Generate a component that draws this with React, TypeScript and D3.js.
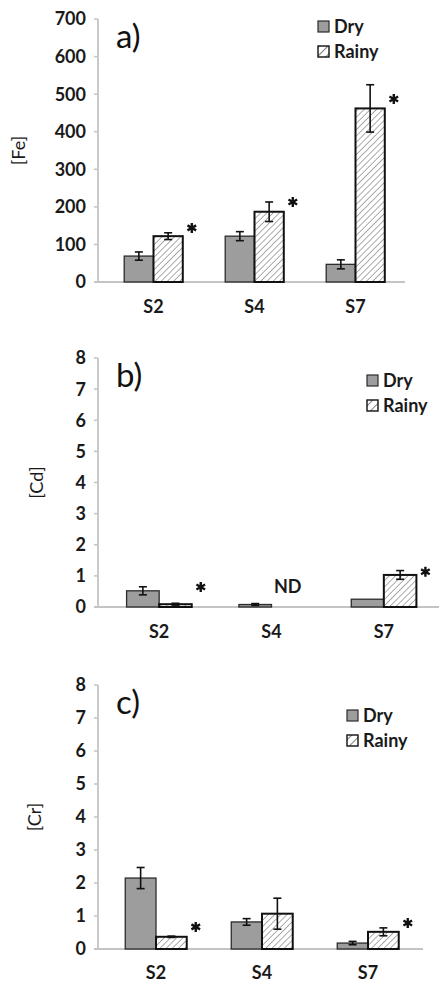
import React from 'react';
import * as d3 from 'd3';

const categories = ['S2', 'S4', 'S7'];

// [Fe]
const feDry = [69, 122, 47];
const feDryErr = [11, 12, 12];
const feRainy = [122, 187, 462];
const feRainyErr = [9, 26, 63];
const feStar = [144, 213, 487];

// [Cd]
const cdDry = [0.52, 0.08, 0.25];
const cdDryErr = [0.13, 0.03, 0];
const cdRainy = [0.09, null, 1.03];
const cdRainyErr = [0.03, 0, 0.14];
const cdStar = [0.64, null, 1.13];
const cdNote = [null, 'ND', null];

// [Cr]
const crDry = [2.15, 0.82, 0.18];
const crDryErr = [0.32, 0.1, 0.05];
const crRainy = [0.37, 1.07, 0.52];
const crRainyErr = [0.02, 0.47, 0.12];
const crStar = [0.67, null, 0.79];

const feTicks = [0, 100, 200, 300, 400, 500, 600, 700];
const smallTicks = [0, 1, 2, 3, 4, 5, 6, 7, 8];

const FONT = 'Lato, "Open Sans", sans-serif';
const DRY = '#9d9d9d';
const EDGE = '#2b2b2b';
const AXIS = '#c4c4c4';
const INK = '#1a1a1a';

type PanelProps = {
  tag: string;
  title: string;
  ticks: number[];
  dry: (number | null)[];
  dryErr: number[];
  rainy: (number | null)[];
  rainyErr: number[];
  star: (number | null)[];
  note?: (string | null)[];
  top: number;
  bottom: number;
  xEnd: number;
  axisEnd: number;
  titleX: number;
  legendX: number;
  legendY: number;
  xLabelY: number;
};

const Star = ({ x, y }: { x: number; y: number }) => {
  const r = 5;
  const spokes = [90, 30, 150].map((a) => {
    const t = (a * Math.PI) / 180;
    return `M${x - r * Math.cos(t)},${y - r * Math.sin(t)}L${x + r * Math.cos(t)},${y + r * Math.sin(t)}`;
  });
  return <path d={spokes.join('')} stroke="#111" strokeWidth={2.4} />;
};

const ErrBar = ({ x, y, lo, hi }: { x: number; y: (v: number) => number; lo: number; hi: number }) => (
  <g stroke="#111" strokeWidth={1.6}>
    <line x1={x} x2={x} y1={y(hi)} y2={y(lo)} />
    <line x1={x - 4} x2={x + 4} y1={y(hi)} y2={y(hi)} />
    <line x1={x - 4} x2={x + 4} y1={y(lo)} y2={y(lo)} />
  </g>
);

const Panel = (p: PanelProps) => {
  const axisX = 98;
  const x = d3.scaleBand().domain(categories).range([103, p.xEnd]).paddingInner(0).paddingOuter(0);
  const y = d3.scaleLinear().domain([0, p.ticks[p.ticks.length - 1]]).range([p.bottom, p.top]);
  const bw = x.bandwidth() * 0.29;

  return (
    <g fontFamily={FONT}>
      {/* axes */}
      <line x1={axisX} x2={axisX} y1={p.top} y2={p.bottom} stroke={AXIS} strokeWidth={1.8} />
      <line x1={axisX - 4} x2={p.axisEnd} y1={p.bottom} y2={p.bottom} stroke={AXIS} strokeWidth={1.8} />
      {p.ticks.map((t) => (
        <g key={t}>
          <line x1={axisX - 4} x2={axisX} y1={y(t)} y2={y(t)} stroke={AXIS} strokeWidth={1.5} />
          <text x={86} y={y(t)} dy="0.36em" textAnchor="end" fontSize={18} fontWeight={700} fill={INK}>
            {t}
          </text>
        </g>
      ))}
      {categories.map((c) => (
        <text key={c} x={x(c)! + x.bandwidth() / 2} y={p.xLabelY} textAnchor="middle" fontSize={18} fontWeight={700} fill={INK}>
          {c}
        </text>
      ))}
      <text
        transform={`translate(${p.titleX},${(p.top + p.bottom) / 2}) rotate(-90)`}
        textAnchor="middle"
        dy="0.36em"
        fontSize={18}
        fill={INK}
      >
        {p.title}
      </text>
      <text x={116} y={p.top + 29} fontSize={33} fill="#111">
        {p.tag}
      </text>

      {/* bars */}
      {categories.map((c, i) => {
        const cx = x(c)! + x.bandwidth() / 2;
        const d = p.dry[i];
        const r = p.rainy[i];
        const s = p.star[i];
        const n = p.note ? p.note[i] : null;
        return (
          <g key={c}>
            {d != null && (
              <>
                <rect x={cx - bw} y={y(d)} width={bw} height={p.bottom - y(d)} fill={DRY} stroke={EDGE} strokeWidth={1.3} />
                {p.dryErr[i] > 0 && <ErrBar x={cx - bw / 2} y={y} lo={d - p.dryErr[i]} hi={d + p.dryErr[i]} />}
              </>
            )}
            {r != null && (
              <>
                <rect x={cx} y={y(r)} width={bw} height={p.bottom - y(r)} fill="url(#hatch)" stroke="#111" strokeWidth={2} />
                {p.rainyErr[i] > 0 && <ErrBar x={cx + bw / 2} y={y} lo={r - p.rainyErr[i]} hi={r + p.rainyErr[i]} />}
              </>
            )}
            {s != null && <Star x={cx + bw + 9} y={y(s)} />}
            {n && (
              <text x={cx + bw / 2} y={p.bottom - 14} textAnchor="middle" fontSize={18} fontWeight={700} fill={INK}>
                {n}
              </text>
            )}
          </g>
        );
      })}

      {/* legend */}
      <g fontSize={18} fontWeight={700} fill={INK}>
        <rect x={p.legendX} y={p.legendY} width={11} height={11} fill={DRY} stroke={EDGE} strokeWidth={1.2} />
        <text x={p.legendX + 16} y={p.legendY + 12}>Dry</text>
        <rect x={p.legendX} y={p.legendY + 25} width={11} height={11} fill="url(#hatchL)" stroke="#111" strokeWidth={1.4} />
        <text x={p.legendX + 16} y={p.legendY + 37}>Rainy</text>
      </g>
    </g>
  );
};

export default function App() {
  return (
    <svg width={439} height={984} style={{ position: 'absolute', left: 0, top: 0, background: '#fff' }}>
      <defs>
        <pattern id="hatch" patternUnits="userSpaceOnUse" width={4.4} height={4.4} patternTransform="rotate(45)">
          <rect width={4.4} height={4.4} fill="#fff" />
          <line x1={0} y1={0} x2={0} y2={4.4} stroke="#808080" strokeWidth={1.3} />
        </pattern>
        <pattern id="hatchL" patternUnits="userSpaceOnUse" width={6} height={6} patternTransform="rotate(45)">
          <rect width={6} height={6} fill="#fff" />
          <line x1={0} y1={0} x2={0} y2={6} stroke="#555" strokeWidth={1.5} />
        </pattern>
      </defs>
      <Panel
        tag="a)"
        title="[Fe]"
        ticks={feTicks}
        dry={feDry}
        dryErr={feDryErr}
        rainy={feRainy}
        rainyErr={feRainyErr}
        star={feStar}
        top={19}
        bottom={282}
        xEnd={406}
        axisEnd={405}
        titleX={19}
        legendX={318}
        legendY={21}
        xLabelY={313}
      />
      <Panel
        tag="b)"
        title="[Cd]"
        ticks={smallTicks}
        dry={cdDry}
        dryErr={cdDryErr}
        rainy={cdRainy}
        rainyErr={cdRainyErr}
        star={cdStar}
        note={cdNote}
        top={358}
        bottom={607}
        xEnd={440}
        axisEnd={439}
        titleX={37}
        legendX={367}
        legendY={375}
        xLabelY={638}
      />
      <Panel
        tag="c)"
        title="[Cr]"
        ticks={smallTicks}
        dry={crDry}
        dryErr={crDryErr}
        rainy={crRainy}
        rainyErr={crRainyErr}
        star={crStar}
        top={685}
        bottom={949}
        xEnd={421}
        axisEnd={423}
        titleX={35}
        legendX={347}
        legendY={710}
        xLabelY={979}
      />
    </svg>
  );
}
